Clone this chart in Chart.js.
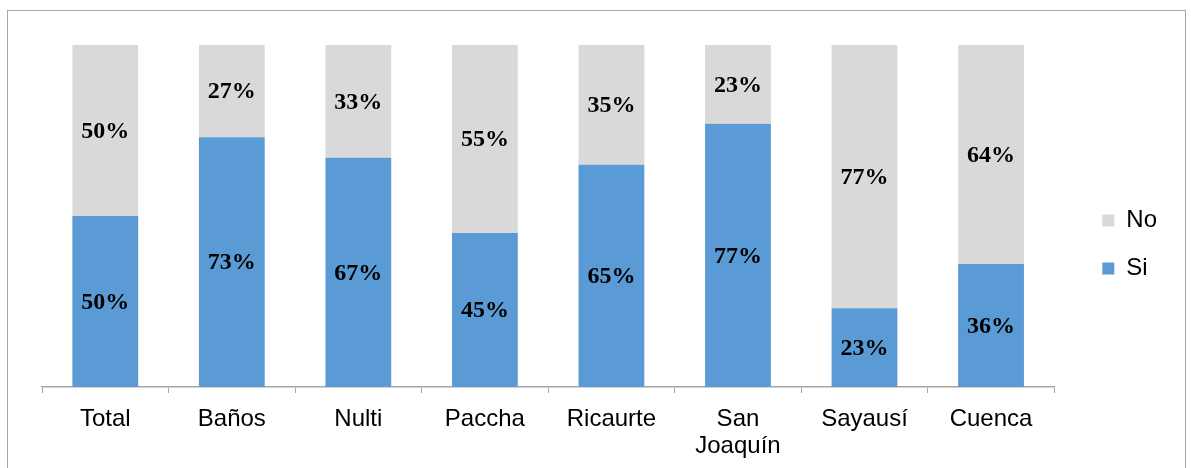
<!DOCTYPE html>
<html>
<head>
<meta charset="utf-8">
<script src="https://cdn.jsdelivr.net/npm/chart.js@4/dist/chart.umd.min.js"></script>
<style>
  html, body { margin: 0; padding: 0; background: #fff; }
  #wrap { position: relative; width: 1191px; height: 468px; overflow: hidden; }
  #frame { position: absolute; left: 7px; top: 10px; width: 1179px; height: 480px; border: 1.5px solid #a6a6a6; box-sizing: border-box; }
  canvas { position: absolute; left: 0; top: 0; }
</style>
</head>
<body>
<div id="wrap">
  <div id="frame"></div>
  <canvas id="chart" width="1191" height="468"></canvas>
</div>
<script>
const categories = ['Total', 'Baños', 'Nulti', 'Paccha', 'Ricaurte', ['San', 'Joaquín'], 'Sayausí', 'Cuenca'];
const siValues = [50, 73, 67, 45, 65, 77, 23, 36];
const noValues = [50, 27, 33, 55, 35, 23, 77, 64];

// writes the percentage in the middle of each stacked segment
const segmentLabels = {
  id: 'segmentLabels',
  afterDatasetsDraw(chart) {
    const ctx = chart.ctx;
    ctx.save();
    ctx.font = 'bold 24px "Liberation Serif", "Times New Roman", serif';
    ctx.fillStyle = '#000';
    ctx.textAlign = 'center';
    ctx.textBaseline = 'middle';
    chart.data.datasets.forEach((ds, i) => {
      chart.getDatasetMeta(i).data.forEach((bar, j) => {
        const mid = (bar.y + bar.base) / 2;
        ctx.fillText(ds.data[j] + '%', bar.x, mid + 1);
      });
    });
    ctx.restore();
  }
};

// nudge the legend block up a little
const legendShift = {
  id: 'legendShift',
  afterLayout(chart) {
    chart.legend.top -= 12;
    chart.legend.bottom -= 12;
  }
};

new Chart(document.getElementById('chart'), {
  type: 'bar',
  data: {
    labels: categories,
    datasets: [
      { label: 'Si', data: siValues, backgroundColor: '#5b9bd5', categoryPercentage: 1, barPercentage: 0.52 },
      { label: 'No', data: noValues, backgroundColor: '#d9d9d9', categoryPercentage: 1, barPercentage: 0.52 }
    ]
  },
  options: {
    responsive: false,
    animation: false,
    layout: { padding: { left: 42, top: 45, right: 24, bottom: 0 } },
    plugins: {
      tooltip: { enabled: false },
      legend: {
        position: 'right',
        reverse: true,
        labels: {
          boxWidth: 12,
          boxHeight: 12,
          padding: 24,
          color: '#000',
          font: { family: '"Liberation Sans", Arial, sans-serif', size: 24 }
        }
      }
    },
    scales: {
      x: {
        stacked: true,
        grid: { offset: true, drawOnChartArea: false, tickLength: 6, color: '#a6a6a6' },
        border: { color: '#a6a6a6', width: 1.5 },
        ticks: {
          color: '#000',
          padding: 13,
          maxRotation: 0,
          font: { family: '"Liberation Sans", Arial, sans-serif', size: 24, lineHeight: 1.125 }
        },
        afterFit(scale) { scale.height = 81; }
      },
      y: {
        stacked: true,
        min: 0,
        max: 100,
        position: 'right',
        grid: { display: false },
        border: { display: false },
        ticks: { display: false },
        afterFit(scale) { scale.width = 24; }
      }
    }
  },
  plugins: [segmentLabels, legendShift]
});
</script>
</body>
</html>
